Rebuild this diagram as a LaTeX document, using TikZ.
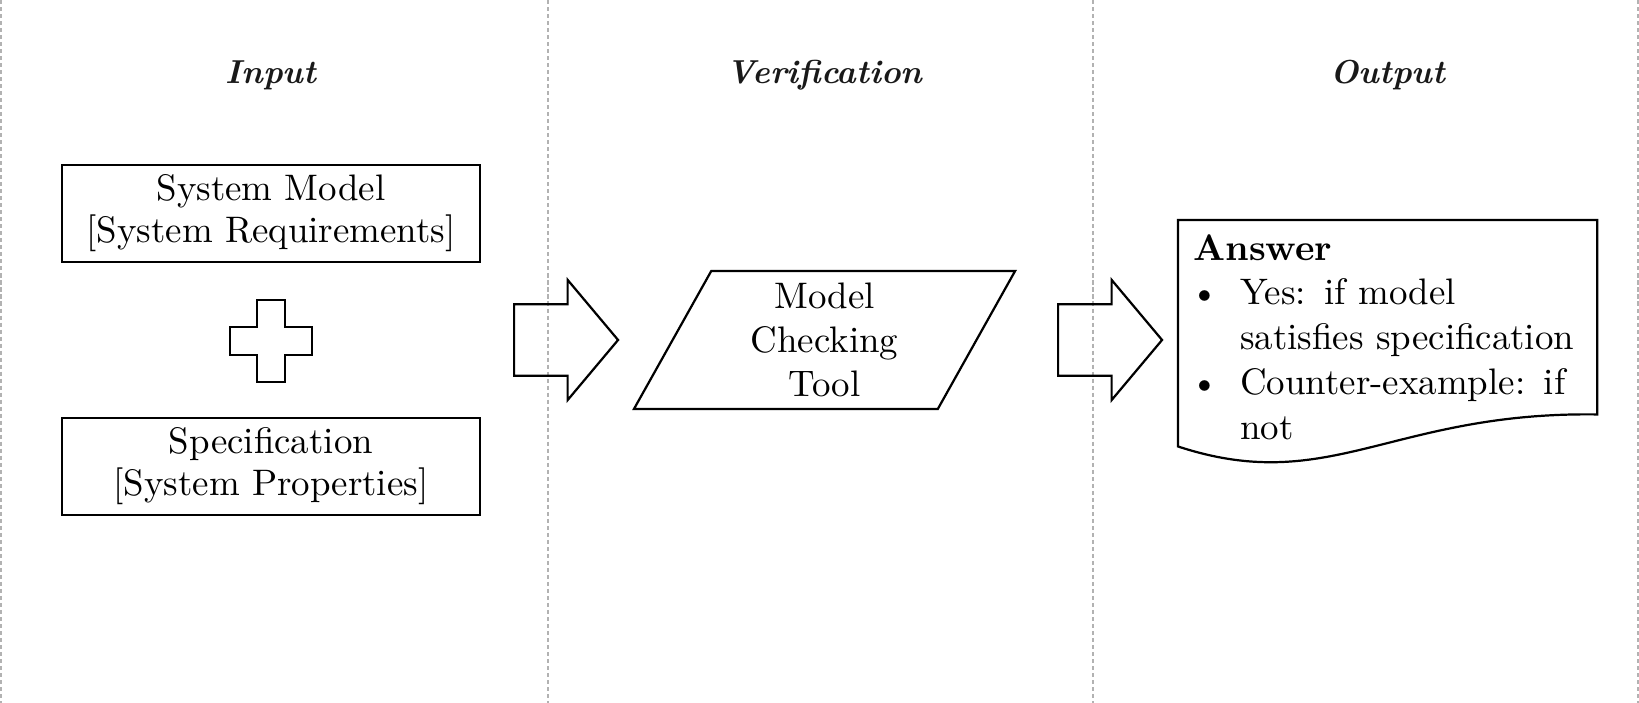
\documentclass[tikz,border=0pt]{standalone}
\usetikzlibrary{shapes.geometric, shapes.arrows, positioning}

\begin{document}
\begin{tikzpicture}[
    node distance=0.35cm,
    title/.style={font=\small\bfseries\itshape, text=black!90, anchor=base},
    box/.style={rectangle, draw, semithick, minimum width=3.98cm, minimum height=0.924cm, inner sep=2pt, align=center, font=\linespread{0.95}\selectfont},
    plusbox/.style={minimum size=0.78cm, inner sep=0pt},
    tool/.style={trapezium, draw, semithick, trapezium left angle=56, trapezium right angle=124, trapezium stretches body=true, minimum width=3.63cm, minimum height=1.314cm, inner sep=0pt, align=center},
    bigarrow/.style={single arrow, draw, semithick, minimum height=0.99cm, inner xsep=0pt, inner ysep=0.33cm, single arrow head extend=0.232cm, single arrow tip angle=100},
    doc/.style={rectangle, minimum width=3.98cm, minimum height=2.073cm, text width=3.70cm, inner xsep=0.14cm, inner ysep=0pt, align=left, font=\linespread{1.01}\selectfont},
    divider/.style={gray!60, thin, dash pattern=on 1.1pt off 0.8pt}
]
\useasboundingbox (0,0) rectangle (15.61,-6.695);

% --- column separators ---
\draw[divider] (0.01,0) -- (0.01,-6.695);
\draw[divider] (5.22,0) -- (5.22,-6.695);
\draw[divider] (10.41,0) -- (10.41,-6.695);
\draw[divider] (15.6,0) -- (15.6,-6.695);

% --- input ---
\node (sysmodel) [box] at (2.581,-2.033) {System Model\\{[System Requirements]}};
\node (plus) [plusbox, below=of sysmodel] {};
\node (spec) [box, below=0.32cm of plus] {Specification\\{[System Properties]}};
\draw[semithick] (plus.north) ++(-0.133,0) -- ++(0.267,0) -- ++(0,-0.257) -- ++(0.257,0) -- ++(0,-0.267) -- ++(-0.257,0) -- ++(0,-0.257) -- ++(-0.267,0) -- ++(0,0.257) -- ++(-0.257,0) -- ++(0,0.267) -- ++(0.257,0) -- cycle;

% --- verification ---
\node (arrowA) [bigarrow, anchor=tail] at (4.886,-3.238) {};
\node (check) [tool] at (7.853,-3.238) {Model\\Checking\\Tool};
\node (arrowB) [bigarrow, anchor=tail] at (10.067,-3.238) {};

% --- output ---
\node (answer) [doc, anchor=north west] at (11.219,-2.165) {
    \textbf{Answer}\\
    \makebox[12.7pt][l]{\hspace*{-0.8pt}\textbullet}Yes: if model\\
    \hspace*{12.7pt}satisfies specification\\
    \makebox[12.7pt][l]{\hspace*{-0.8pt}\textbullet}Counter-example: if\\
    \hspace*{12.7pt}not
};
\draw[semithick] ([yshift=0.07cm]answer.north west) -- ([yshift=0.07cm]answer.north east) -- ([yshift=0.305cm]answer.south east)
    .. controls ([xshift=-1.962cm, yshift=0.333cm]answer.south east) and ([xshift=1.448cm, yshift=-0.476cm]answer.south west) .. (answer.south west) -- cycle;

% --- column titles ---
\node (inputtitle) [title] at (sysmodel |- 0,-0.793) {Input};
\node (verifytitle) [title] at (check |- 0,-0.793) {Verification};
\node (outputtitle) [title] at (answer |- 0,-0.793) {Output};

\end{tikzpicture}
\end{document}
